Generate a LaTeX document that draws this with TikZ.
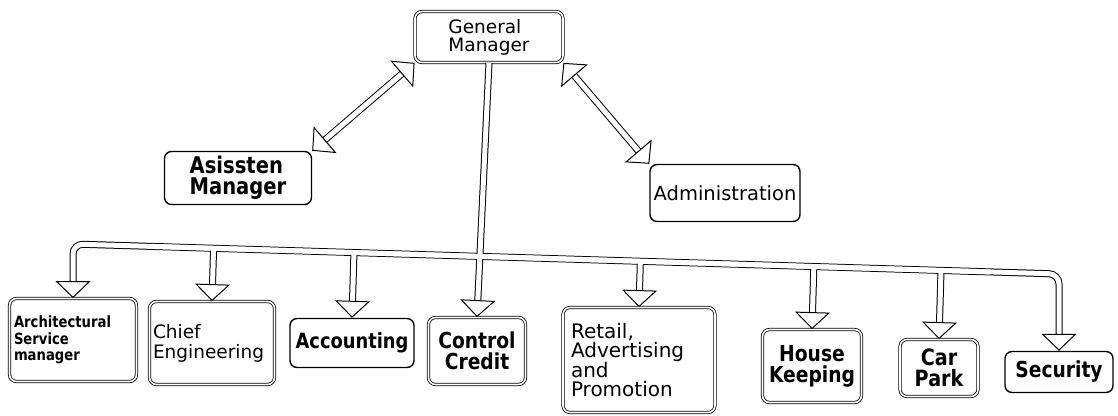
\documentclass[tikz,border=0pt]{standalone}
\usepackage{fontspec}
\setmainfont{DejaVu Sans}[BoldFeatures={FakeStretch=0.85}]
\usetikzlibrary{arrows.meta,calc}

\newcommand{\fsz}[2]{\fontsize{#1}{#2}\selectfont}

\tikzset{
  box/.style={draw, rounded corners=7pt, line width=1.4pt, align=left, inner sep=2pt},
  dbox/.style={box, line width=0.8pt, double, double distance=1.6pt},
  pipe/.style={line width=1pt, double, double distance=5pt},
  head/.tip={Triangle[fill=white,length=17pt,width=35pt,line width=1pt]},
}

\begin{document}
\begin{tikzpicture}[x=1pt,y=-1pt]
  \useasboundingbox (0,0) rectangle (1118,415);
  % management
  \node[dbox, minimum width=148pt, minimum height=51pt, font=\fsz{18.5}{18}] (gm) at (489,37) {General\\Manager};
  \node[box, minimum width=147pt, minimum height=53pt, font=\fsz{23}{21}\bfseries] (am) at (238,178) {Asissten\\Manager};
  \node[box, minimum width=150pt, minimum height=57pt, font=\fsz{19.5}{20}] (adm) at (725,193) {Administration};
  % departments
  \node[dbox, minimum width=127pt, minimum height=83pt, font=\fsz{15.5}{16.5}\bfseries, text width=118pt] (arch) at (73,340) {Architectural\\Service\\manager};
  \node[dbox, minimum width=125pt, minimum height=83pt, font=\fsz{18.5}{20}, text width=118pt] (chief) at (212,343) {Chief\\Engineering};
  \node[box, minimum width=124pt, minimum height=49pt, font=\fsz{21}{22}\bfseries] (acc) at (352,343) {Accounting};
  \node[dbox, minimum width=97pt, minimum height=67pt, font=\fsz{22}{21}\bfseries, align=center] (cc) at (477,351) {Control\\Credit};
  \node[dbox, minimum width=152pt, minimum height=105pt, font=\fsz{20}{19}, text width=136pt] (retail) at (639,360) {Retail,\\Advertising\\and\\Promotion};
  \node[dbox, minimum width=99pt, minimum height=73pt, font=\fsz{22}{21}\bfseries, align=center] (house) at (812,366) {House\\Keeping};
  \node[dbox, minimum width=78pt, minimum height=57pt, font=\fsz{22.5}{21}\bfseries, align=center] (car) at (939,368) {Car\\Park};
  \node[box, minimum width=108pt, minimum height=41pt, font=\fsz{22}{22}\bfseries] (sec) at (1059,372) {Security};

  \draw[pipe, head-head] (gm.south west) -- (am.north east);
  \draw[pipe, head-head] (gm.south east) -- (adm.north west);

  % distribution bus
  \coordinate (busL) at (arch.north |- 0,244);
  \coordinate (busR) at (sec.north |- 0,274);
  \draw[pipe, rounded corners=10pt, head-head] (arch.north) -- (busL) -- (busR) -- (sec.north);
  \draw[pipe, -head] (gm.south) -- (cc.north);
  \foreach \d in {chief,acc,retail,house,car}
    \draw[pipe, -head] ($(busL)!(\d.north)!(busR)$) -- (\d.north);
  \draw[white, line width=5pt] ($(busL)!0.08!(busR)$) -- ($(busL)!0.93!(busR)$);
\end{tikzpicture}
\end{document}
